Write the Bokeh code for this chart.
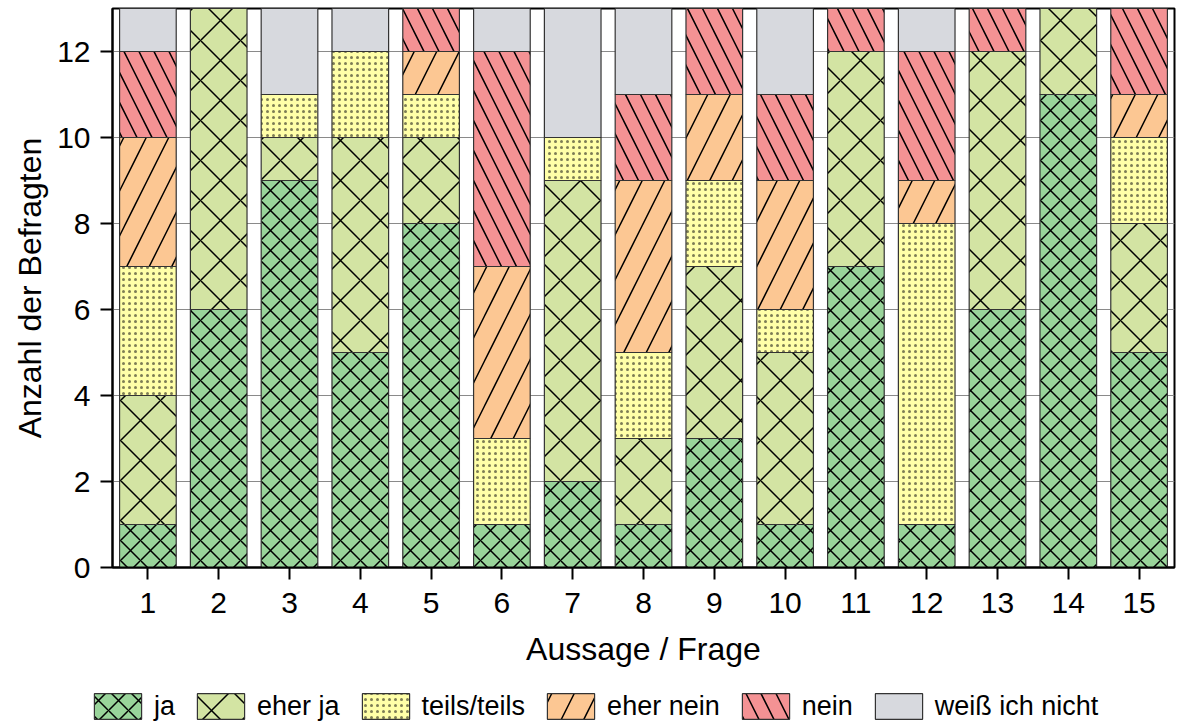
from bokeh.plotting import figure
from bokeh.models import Range1d, FixedTicker
from bokeh.layouts import column
from bokeh.embed import file_html
from bokeh.resources import INLINE

questions = list(range(1, 16))
tick_labels = [str(q) for q in questions]
categories = ["ja", "eher ja", "teils/teils", "eher nein", "nein", "weiß ich nicht"]

ja          = [1, 6, 9, 5, 8, 1, 2, 1, 3, 1, 7, 1, 6, 11, 5]
eher_ja     = [3, 7, 1, 5, 2, 0, 7, 2, 4, 4, 5, 0, 6, 2, 3]
teils_teils = [3, 0, 1, 2, 1, 2, 1, 2, 2, 1, 0, 7, 0, 0, 2]
eher_nein   = [3, 0, 0, 0, 1, 4, 0, 4, 2, 3, 0, 1, 0, 0, 1]
nein        = [2, 0, 0, 0, 1, 5, 0, 2, 2, 2, 1, 3, 1, 0, 2]
weiss_nicht = [1, 0, 2, 1, 0, 1, 3, 2, 0, 2, 0, 1, 0, 0, 0]

keys = ["ja", "eher_ja", "teils_teils", "eher_nein", "nein", "weiss_nicht"]
data = dict(x=questions, ja=ja, eher_ja=eher_ja, teils_teils=teils_teils,
            eher_nein=eher_nein, nein=nein, weiss_nicht=weiss_nicht)

colors = ["#99D49A", "#D3E4A3", "#FFFFA8", "#FCC793", "#F49294", "#D7D9DE"]
patterns = ["x", "x", ".", "/", "\\", " "]
scales = [20, 40, 6, 45, 30, 10]
hatch_colors = ["black", "black", "#7d7d55", "black", "black", "black"]
hatch_weights = [1.5, 1.5, 0.9, 1.5, 1.5, 1.0]

FONT = "Liberation Sans"
style = dict(fill_color=colors, line_color="#333333", line_width=1.2,
             hatch_pattern=patterns, hatch_scale=scales,
             hatch_color=hatch_colors, hatch_weight=hatch_weights)

p = figure(width=1192, height=681, output_backend="svg", toolbar_location=None,
           x_range=Range1d(0.5, 15.5), y_range=Range1d(0, 13),
           min_border_left=112, min_border_right=18, min_border_top=8,
           min_border_bottom=114)

p.vbar_stack(keys, x="x", width=0.8, source=data, **style)

p.outline_line_color = "black"
p.outline_line_width = 2

p.xgrid.visible = False
p.ygrid.grid_line_color = "#8a8a8a"
p.ygrid.grid_line_width = 1
p.ygrid.ticker = FixedTicker(ticks=[2, 4, 6, 8, 10, 12])

p.xaxis.ticker = FixedTicker(ticks=questions)
p.xaxis.major_label_overrides = {q: t for q, t in zip(questions, tick_labels)}
p.yaxis.ticker = FixedTicker(ticks=[0, 2, 4, 6, 8, 10, 12])

for ax in (p.xaxis[0], p.yaxis[0]):
    ax.axis_line_width = 2
    ax.axis_line_color = "black"
    ax.major_tick_line_width = 2
    ax.major_tick_line_color = "black"
    ax.major_tick_in = 0
    ax.major_tick_out = 12
    ax.minor_tick_line_color = None
    ax.major_label_text_font = FONT
    ax.major_label_text_font_size = "30px"
    ax.major_label_text_color = "black"
    ax.axis_label_text_font = FONT
    ax.axis_label_text_font_size = "32px"
    ax.axis_label_text_font_style = "normal"
    ax.axis_label_text_color = "black"

p.xaxis.axis_label = "Aussage / Frage"
p.yaxis.axis_label = "Anzahl der Befragten"
p.xaxis.major_label_standoff = 13
p.yaxis.major_label_standoff = 10
p.xaxis.axis_label_standoff = 15
p.yaxis.axis_label_standoff = 6

# legend strip: same stacked glyphs, data far outside its visible range
lp = figure(width=1192, height=43, output_backend="svg", toolbar_location=None,
            x_range=Range1d(100, 101), y_range=Range1d(100, 101),
            x_axis_location=None, y_axis_location=None,
            min_border=0, min_border_left=0, min_border_right=0,
            min_border_top=0, min_border_bottom=0, outline_line_color=None)
lp.grid.visible = False
lp.vbar_stack(keys, x="x", width=0.8, source=data, legend_label=categories, **style)

for fig in (p, lp):
    if "frame_align" in fig.properties():
        fig.frame_align = False

leg = lp.legend[0]
leg.orientation = "horizontal"
leg.location = (88, 2)
leg.label_text_font = FONT
leg.label_text_font_size = "27px"
leg.label_text_color = "black"
leg.glyph_width = 59
leg.glyph_height = 32
leg.label_standoff = 7
leg.spacing = 16
leg.padding = 0
leg.margin = 0
leg.border_line_color = None
leg.background_fill_alpha = 0

layout = column(p, lp, spacing=0)
open("out.html", "w").write(file_html(layout, INLINE))
